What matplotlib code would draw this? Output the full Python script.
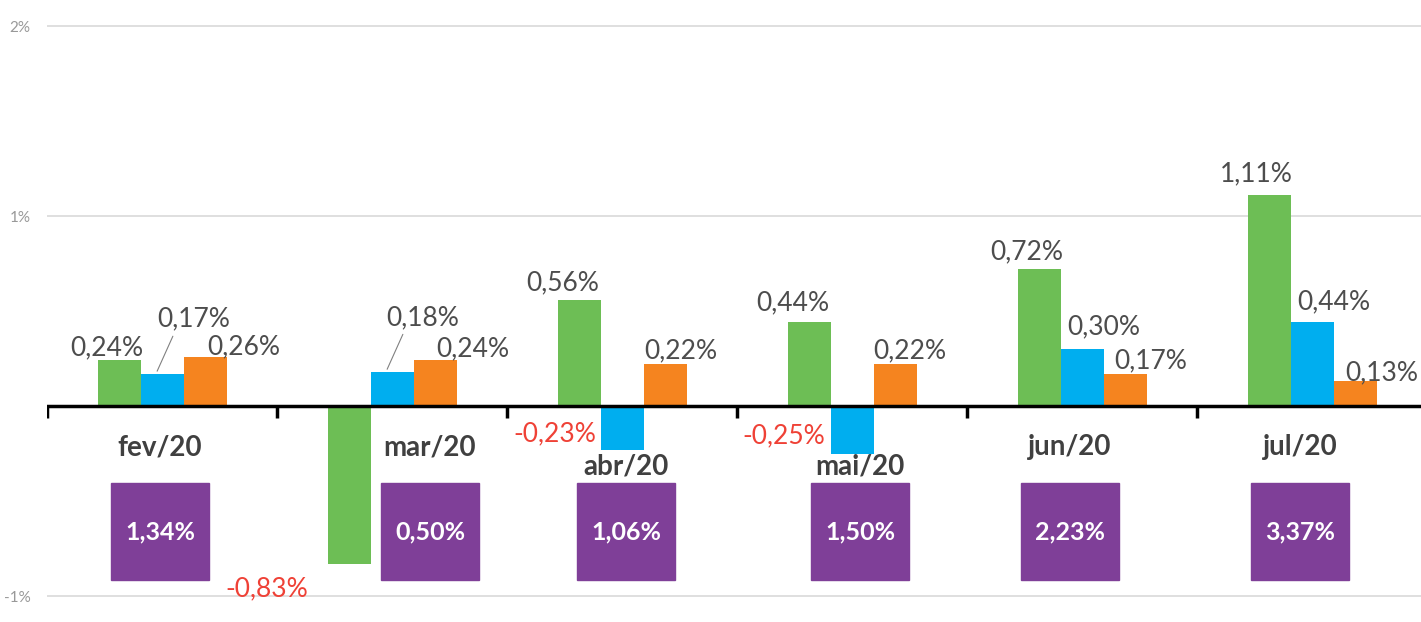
import matplotlib
matplotlib.use('Agg')
import matplotlib.pyplot as plt
from matplotlib.patches import Rectangle

plt.rcParams['font.family'] = ['Lato', 'DejaVu Sans']

# data
months = ['fev/20', 'mar/20', 'abr/20', 'mai/20', 'jun/20', 'jul/20']
green = [0.24, -0.83, 0.56, 0.44, 0.72, 1.11]
blue = [0.17, 0.18, -0.23, -0.25, 0.30, 0.44]
orange = [0.26, 0.24, 0.22, 0.22, 0.17, 0.13]
totals = [1.34, 0.50, 1.06, 1.50, 2.23, 3.37]

GREEN = '#6DBE55'
BLUE = '#00AEEF'
ORANGE = '#F5841F'
PURPLE = '#7F3F98'
RED = '#EF4136'
TEXT = '#4D4D4D'

# layout (pixels -> data units)
PX_X = 230.0   # pixels per category
PX_Y = 190.0   # pixels per 1%
W = 43 / PX_X

# label offsets in pixels (dx, dy) from the bar end
green_off = [(-12, 13), (-82, -25), (-16, 17), (-16, 20), (-12, 17), (-13, 21)]
blue_off = [(32, 55), (31, 54), (-67, 16), (-68, 18), (22, 22), (22, 21)]
orange_off = [(39, 10), (38, 12), (16, 13), (15, 13), (26, 13), (27, 8)]
cat_dx = [-2, 38, 4, 8, -12, -12]
cat_y = [-0.216, -0.216, -0.321, -0.321, -0.216, -0.216]


def fmt(v):
    return '{:.2f}%'.format(v).replace('.', ',')


fig = plt.figure(figsize=(14.21, 6.22), dpi=100)
ax = fig.add_axes([47 / 1421, 0, 1 - 47 / 1421, 1])
ax.set_xlim(-0.5, -0.5 + (1421 - 47) / PX_X)
ax.set_ylim(-(622 - 406) / PX_Y, 406 / PX_Y)

for y in [-1, 1, 2]:
    ax.axhline(y, color='#D9D9D9', lw=1.2, zorder=0)
ax.set_yticks([-1, 1, 2])
ax.set_yticklabels(['-1%', '1%', '2%'], color='#999999', fontsize=11)
ax.tick_params(axis='y', length=0, pad=12)
ax.set_xticks([])
for s in ax.spines.values():
    s.set_visible(False)

x = list(range(len(months)))
series = [(green, GREEN, green_off, -W), (blue, BLUE, blue_off, 0), (orange, ORANGE, orange_off, W)]
for vals, col, offs, shift in series:
    xs = [i + shift for i in x]
    ax.bar(xs, vals, W, color=col, zorder=2)
    for xi, v, (dx, dy) in zip(xs, vals, offs):
        ax.annotate(fmt(v), xy=(xi, v), xytext=(dx, dy), textcoords='offset pixels',
                    ha='center', va='center', fontsize=19,
                    color=RED if v < 0 else TEXT, zorder=4)

# leader lines for the small blue labels
for i in [0, 1]:
    ax.annotate('', xy=(i - 6 / PX_X, blue[i]), xytext=(i + 12 / PX_X, blue[i] + 40 / PX_Y),
                arrowprops=dict(arrowstyle='-', color='#808080', lw=0.8), zorder=4)

# zero axis with category separators
ax.axhline(0, color='black', lw=2.5, zorder=3)
ax.vlines([i - 0.5 for i in x], -12 / PX_Y, 0, color='black', lw=2.5, zorder=3)

# category labels and total boxes
for i, m in enumerate(months):
    cx = i + cat_dx[i] / PX_X
    ax.text(cx, cat_y[i], m, ha='center', va='center', fontsize=20,
            fontweight='bold', color='#404040')
    bw, bh = 98 / PX_X, 97 / PX_Y
    ax.add_patch(Rectangle((cx - bw / 2, -0.916), bw, bh, color=PURPLE, zorder=2))
    ax.text(cx, -0.663, fmt(totals[i]), ha='center', va='center', fontsize=18,
            fontweight='bold', color='white', zorder=3)

fig.savefig('out.png', dpi=100)
